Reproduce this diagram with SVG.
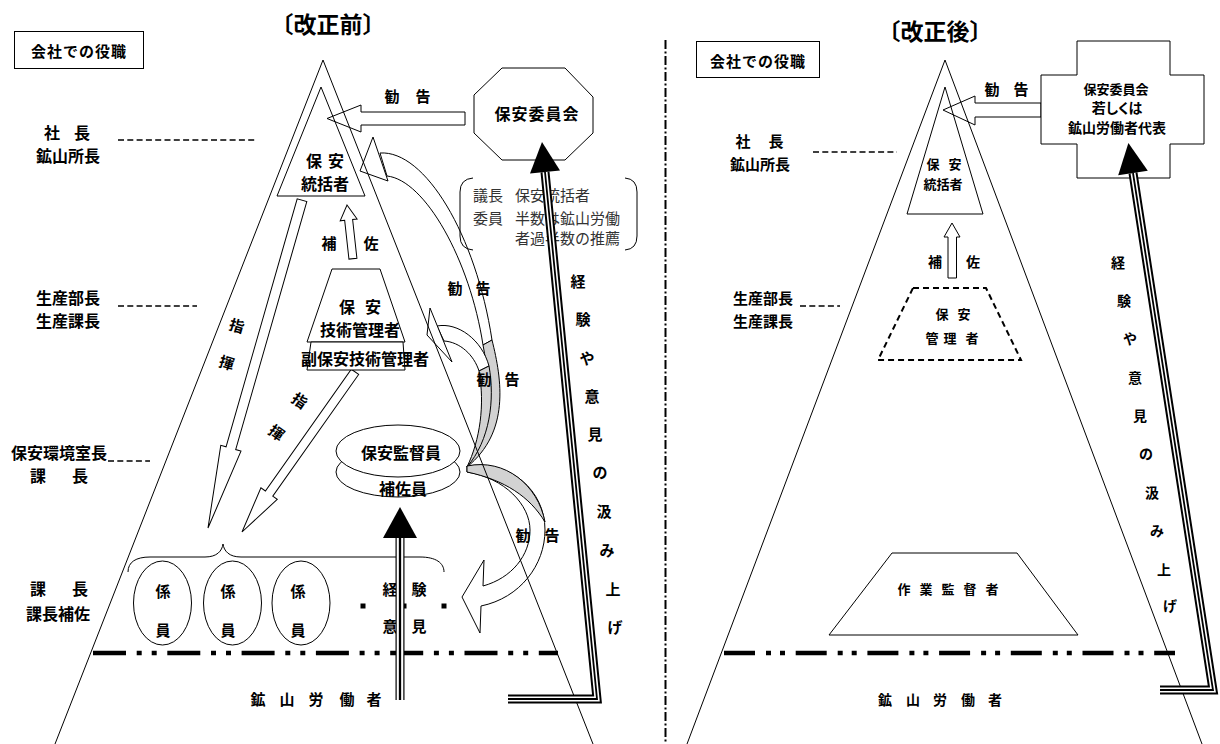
<svg xmlns="http://www.w3.org/2000/svg" width="1220" height="744" viewBox="0 0 1220 744">
<style>
text{font-family:"Noto Sans CJK JP","Noto Sans CJK SC",sans-serif;font-weight:700;fill:#000;dominant-baseline:central;text-anchor:middle}
.f13{font-size:13px}.f14{font-size:14px}.f15{font-size:15px}.f16{font-size:16px}.f23{font-size:23px;font-weight:700}
.nb{font-weight:400;fill:#333;text-anchor:start;font-size:15px}
.palt{font-feature-settings:"palt"}
.ln{fill:none;stroke:#000;stroke-width:1}
.w{fill:#fff;stroke:#000;stroke-width:1}
.g{fill:#d2d2d2;stroke:#000;stroke-width:1}
.dl{fill:none;stroke:#000;stroke-width:1.6;stroke-dasharray:6 3.3}
.dd{fill:none;stroke:#000;stroke-width:4.5;stroke-dasharray:33 10.7 5 10 5 10.6}
.dd2{fill:none;stroke:#000;stroke-width:4.5;stroke-dasharray:31 11 5 9 5 10.7}
.dsh{fill:none;stroke:#000;stroke-width:2;stroke-dasharray:6 4}
.b1{fill:none;stroke:#000;stroke-width:9;stroke-linejoin:miter}
.b2{fill:none;stroke:#fff;stroke-width:5;stroke-linejoin:miter}
.b3{fill:none;stroke:#000;stroke-width:1.8;stroke-linejoin:miter}
</style>
<rect width="1220" height="744" fill="#fff"/>

<!-- ===== LEFT DIAGRAM ===== -->
<g id="title-before"><text class="f23" x="328" y="23">〔改正前〕</text></g>
<g id="role-box-left"><rect class="ln" x="14.5" y="31.5" width="129" height="37"/><text class="f15" x="79" y="50" letter-spacing="1">会社での役職</text></g>

<g id="roles-left">
<text class="f16" x="52 82" y="132">社長</text>
<text class="f16" x="68" y="155">鉱山所長</text>
<line class="dl" x1="118" y1="140" x2="257" y2="140"/>
<text class="f16" x="68" y="297">生産部長</text>
<text class="f16" x="68" y="320">生産課長</text>
<line class="dl" x1="118" y1="306" x2="197" y2="306"/>
<text class="f16" x="59" y="452">保安環境室長</text>
<text class="f16" x="38 80" y="475">課長</text>
<line class="dl" x1="108" y1="461" x2="150" y2="461"/>
<text class="f16" x="38 80" y="588">課長</text>
<text class="f16" x="58" y="613">課長補佐</text>
</g>

<g id="connectors-left">
<!-- kankoku top arrow -->
<polygon class="w" points="465,112 361,112 361,105 327,118.5 361,132 361,125 465,125"/>
<!-- hosa arrow -->
<polygon class="w" transform="translate(347,205) rotate(-6.3)" points="0,0 8.5,15 4,15 4,54 -4,54 -4,15 -8.5,15"/>
<!-- shiki arrows -->
<polygon class="w" transform="translate(208,528) rotate(16)" points="0,0 10.5,-83 5,-83 5,-341 -5,-341 -5,-83 -10.5,-83"/>
<polygon class="w" transform="translate(242,532) rotate(35.2)" points="0,0 10,-47 4.5,-47 4.5,-196 -4.5,-196 -4.5,-47 -10,-47"/>
<!-- curved arrow 1 to 保安統括者 -->
<path class="w" d="M380,153 C425,150 476,235 492,340 L483,345 C470,260 425,180 387,176 Z"/>
<polygon class="w" points="360,171 373,137 388,181"/>
<path class="g" d="M492,340 C502,380 510,432 467,467 C490,432 492,390 483,345 Z"/>
<!-- curved arrow 2 to 技術管理者 -->
<path class="w" d="M437,326 C458,322 482,340 489,366 L479,371 C474,355 460,342 444,341 Z"/>
<polygon class="w" points="427,335 430,308 452,362"/>
<path class="g" d="M489,366 C495,400 490,440 467,467 C480,440 485,405 479,371 Z"/>
<!-- curved arrow 3 down to 経験 -->
<path class="w" d="M467,466 C510,460 545,490 545,530 C545,565 520,598 481,606 L480,633 L462,597 L484,560 L483,586 C512,578 530,555 530,530 C530,505 505,478 467,472 Z"/>
<path class="g" d="M467,466 C505,458 538,485 545,522 C530,497 505,480 467,472 Z"/>
</g>

<g id="node-tokatsu-left">
<polygon class="ln" points="321,87 277,196 365,196"/>
<text class="f16" x="314 336" y="160">保安</text>
<text class="f16" x="325" y="183">統括者</text>
</g>

<g id="node-gijutsu">
<polygon class="w" points="332,269 380,269 405,342 307,342"/>
<polygon class="w" points="311,342 403,342 405,370 307,370"/>
<text class="f16" x="347 373" y="306">保安</text>
<text class="f16" x="360" y="329">技術管理者</text>
<text class="f16" x="365" y="358">副保安技術管理者</text>
</g>

<g id="node-kantokuin">
<ellipse class="w" cx="398" cy="472" rx="62" ry="25"/>
<ellipse class="w" cx="398" cy="451" rx="62" ry="26"/>
<text class="f16" x="401" y="452">保安監督員</text>
<text class="f16" x="403" y="488">補佐員</text>
</g>

<g id="node-iinkai-left">
<polygon class="w" points="502,68 565,68 593,97 593,133 565,160 502,160 474,133 474,95"/>
<text class="f16" x="537" y="113" letter-spacing="1">保安委員会</text>
</g>

<g id="note-left">
<path class="ln" d="M473,178 Q460,179 460,192 L460,236 Q460,249 473,250"/>
<path class="ln" d="M625,178 Q637,179 637,192 L637,236 Q637,249 625,250"/>
<text class="nb" x="473" y="194">議長</text><text class="nb" x="515" y="194">保安統括者</text>
<text class="nb" x="473" y="217">委員</text><text class="nb" x="515" y="217">半数は鉱山労働</text>
<text class="nb" x="515" y="237">者過半数の推薦</text>
</g>

<g id="brace-left">
<path class="ln" d="M128,572 C128,562 136,557 150,557 L205,557 C217,557 222,551 223,544 C224,551 229,557 241,557 L420,557 C436,557 444,563 444,572"/>
</g>

<g id="node-kakari">
<ellipse class="ln" cx="162.5" cy="603" rx="29" ry="42"/>
<ellipse class="ln" cx="232.5" cy="603" rx="29" ry="42"/>
<ellipse class="ln" cx="301" cy="603" rx="29" ry="42"/>
<text class="f15" x="163 228 298" y="590">係係係</text>
<text class="f15" x="163 228 298" y="629">員員員</text>
</g>

<g id="node-keiken-left">
<text class="f15" x="390 419" y="588">経験</text>
<rect x="360.5" y="603.5" width="5" height="5"/>
<rect x="401.5" y="603.5" width="5" height="5"/>
<rect x="441.5" y="603.5" width="5" height="5"/>
<text class="f15" x="390 419" y="625">意見</text>
</g>

<g id="triangle-left">
<polyline class="ln" points="55,744 323,60 593,744"/>
<line class="dd" x1="93" y1="653" x2="558" y2="653"/>
</g>

<g id="labels-left">
<text class="f15" x="392 423" y="95">勧告</text>
<text class="f15" x="329 371" y="242">補佐</text>
<text class="f15" x="455 483" y="287">勧告</text>
<text class="f15" x="484 512" y="378">勧告</text>
<text class="f15" x="523 552" y="534">勧告</text>
<text class="f15" transform="translate(237,325) rotate(16)">指</text>
<text class="f15" transform="translate(227,362) rotate(16)">揮</text>
<text class="f15" transform="translate(300,400) rotate(35)">指</text>
<text class="f15" transform="translate(277,432) rotate(35)">揮</text>
<text class="f15" x="578 583 587 592 595 600 604 607 613 615" y="280 318 357 395 433 471 510 549 588 626">経験や意見の汲み上げ</text>
</g>

<g id="node-workers-left">
<text class="f15" x="258 287 316 347 374" y="698">鉱山労働者</text>
</g>

<g id="connectors-black-left">
<path class="b1" d="M400,700 L400,536"/>
<path fill="none" stroke="#fff" stroke-width="6.6" d="M400,700 L400,536"/>
<path fill="none" stroke="#000" stroke-width="2.3" d="M400,700 L400,536"/>
<polygon points="400,507 383,538 417,538"/>
<path class="b1" d="M508,699 L597,699 L545,172"/>
<path class="b2" d="M508,699 L597,699 L545,172"/>
<path class="b3" d="M508,699 L597,699 L545,172"/>
<polygon points="542,142 560,170.5 530,173.5"/>
</g>

<!-- divider -->
<line x1="665.5" y1="40" x2="665.5" y2="744" stroke="#000" stroke-width="2" stroke-dasharray="9 2.5 2 2.5"/>

<!-- ===== RIGHT DIAGRAM ===== -->
<g id="title-after"><text class="f23" x="935" y="30">〔改正後〕</text></g>
<g id="role-box-right"><rect class="ln" x="696.5" y="41.5" width="123" height="36"/><text class="f15" x="758" y="60" letter-spacing="1">会社での役職</text></g>

<g id="roles-right">
<text class="f15" x="743 776" y="140">社長</text>
<text class="f15" x="760" y="163">鉱山所長</text>
<line class="dl" x1="813" y1="152" x2="897" y2="152"/>
<text class="f15" x="763" y="297">生産部長</text>
<text class="f15" x="763" y="320">生産課長</text>
<line class="dl" x1="800" y1="306" x2="840" y2="306"/>
</g>

<g id="connectors-right">
<polygon class="w" points="1041,103 975,103 975,96 943,110 975,125 975,117 1041,117"/>
<polygon class="w" points="952,223 960,237 956.5,237 956.5,278 948,278 948,237 944,237"/>
</g>

<g id="node-tokatsu-right">
<polygon class="ln" points="945,87 907,214 983,214"/>
<text class="f13" x="933 955" y="163">保安</text>
<text class="f13" x="943" y="183">統括者</text>
</g>

<g id="node-kanrisha-right">
<polygon class="dsh" points="913,288 986,288 1021,360 878,360"/>
<text class="f13" x="942 964" y="313">保安</text>
<text class="f13" x="932 950 972" y="337">管理者</text>
</g>

<g id="node-sagyo-right">
<polygon class="ln" points="892,553 1017,553 1078,635 829,635"/>
<text class="f13" x="904 926 948 970 992" y="588">作業監督者</text>
</g>

<g id="node-iinkai-right">
<polygon class="w" points="1077,41 1170,41 1170,75 1204,75 1204,144 1170,144 1170,178 1077,178 1077,144 1041,144 1041,75 1077,75"/>
<text class="f13" x="1116" y="88">保安委員会</text>
<text class="f14 palt" x="1117" y="107">若しくは</text>
<text class="f14" x="1117" y="127">鉱山労働者代表</text>
</g>

<g id="triangle-right">
<polyline class="ln" points="687,744 945,60 1202,744"/>
<line class="dd2" x1="724" y1="653" x2="1175" y2="653"/>
</g>

<g id="labels-right">
<text class="f15" x="992 1021" y="88">勧告</text>
<text class="f14" x="935 973" y="261">補佐</text>
<text class="f14" x="1118 1124 1130 1135 1140 1146 1152 1157 1164 1170" y="262 300 338 377 415 453 492 530 569 605">経験や意見の汲み上げ</text>
</g>

<g id="node-workers-right">
<text class="f14" x="885 913 940 968 995" y="699">鉱山労働者</text>
</g>

<g id="connectors-black-right">
<path class="b1" d="M1160,690 L1213,690 L1133,173"/>
<path class="b2" d="M1160,690 L1213,690 L1133,173"/>
<path class="b3" d="M1160,690 L1213,690 L1133,173"/>
<polygon points="1128.4,143 1147.8,170.7 1118.2,175.3"/>
</g>
</svg>
